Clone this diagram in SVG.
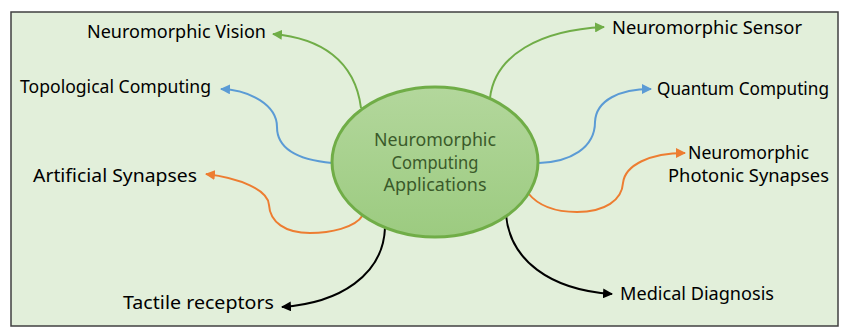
<svg xmlns="http://www.w3.org/2000/svg" width="843" height="329" viewBox="0 0 843 329">
<style>
.lbl{font-family:"Comic Sans MS","Noto Sans",sans-serif;font-size:18px;fill:#000}
.ctr{font-family:"Comic Sans MS","Noto Sans",sans-serif;font-size:18px;fill:#3a5a2a;text-anchor:middle}
.c{fill:none;stroke-width:2}
.g{stroke:#70ad47}.b{stroke:#5b9bd5}.o{stroke:#ed7d31}.k{stroke:#000}
</style>
<defs>
<linearGradient id="eg" x1="0" y1="0" x2="0" y2="1"><stop offset="0" stop-color="#b3d79c"/><stop offset="1" stop-color="#9ccb80"/></linearGradient>
<marker id="ag" viewBox="0 0 10 10" refX="9" refY="5" markerWidth="5" markerHeight="5" orient="auto"><path d="M0,0L10,5L0,10z" fill="#70ad47"/></marker>
<marker id="ab" viewBox="0 0 10 10" refX="9" refY="5" markerWidth="5" markerHeight="5" orient="auto"><path d="M0,0L10,5L0,10z" fill="#5b9bd5"/></marker>
<marker id="ao" viewBox="0 0 10 10" refX="9" refY="5" markerWidth="5" markerHeight="5" orient="auto"><path d="M0,0L10,5L0,10z" fill="#ed7d31"/></marker>
<marker id="ak" viewBox="0 0 10 10" refX="9" refY="5" markerWidth="5" markerHeight="5" orient="auto"><path d="M0,0L10,5L0,10z" fill="#000"/></marker>
</defs>
<rect x="0" y="0" width="843" height="329" fill="#fff"/>
<rect x="11" y="12" width="827" height="314" fill="#e2efda" stroke="#404040" stroke-width="1.5"/>
<g id="connectors">
<path class="c g" d="M361,108 C355,60 320,38 273,34" marker-end="url(#ag)"/>
<path class="c b" d="M332,163 C300,160 277,150 277,127 C277,105 250,90 221,89" marker-end="url(#ab)"/>
<path class="c o" d="M363,215 C355,228 330,233 310,233 C285,233 270,222 269,205 C268,190 240,178 206,174" marker-end="url(#ao)"/>
<path class="c k" d="M385,228 C383,275 340,303 282,307" marker-end="url(#ak)"/>
<path class="c g" d="M490,98 C495,55 540,30 604,27" marker-end="url(#ag)"/>
<path class="c b" d="M539,163 C570,162 595,148 595,122 C596,100 620,89 651,89" marker-end="url(#ab)"/>
<path class="c o" d="M528,193 C540,208 560,212 577,212 C605,212 622,200 623,183 C625,165 650,153 685,153" marker-end="url(#ao)"/>
<path class="c k" d="M506,215 C510,260 550,290 612,294" marker-end="url(#ak)"/>
</g>
<g id="center">
<ellipse cx="435" cy="162" rx="103" ry="75" fill="url(#eg)" stroke="#70ad47" stroke-width="3"/>
<text class="ctr" x="435" y="146" textLength="122" lengthAdjust="spacingAndGlyphs">Neuromorphic</text>
<text class="ctr" x="435" y="169" textLength="87" lengthAdjust="spacingAndGlyphs">Computing</text>
<text class="ctr" x="435" y="191" textLength="103" lengthAdjust="spacingAndGlyphs">Applications</text>
</g>
<g id="n-vision"><text class="lbl" x="87" y="38" textLength="179" lengthAdjust="spacingAndGlyphs">Neuromorphic Vision</text></g>
<g id="n-topological"><text class="lbl" x="20" y="93" textLength="191" lengthAdjust="spacingAndGlyphs">Topological Computing</text></g>
<g id="n-artificial"><text class="lbl" x="33" y="182" textLength="164" lengthAdjust="spacingAndGlyphs">Artificial Synapses</text></g>
<g id="n-tactile"><text class="lbl" x="123" y="309" textLength="151" lengthAdjust="spacingAndGlyphs">Tactile receptors</text></g>
<g id="n-sensor"><text class="lbl" x="612" y="34" textLength="190" lengthAdjust="spacingAndGlyphs">Neuromorphic Sensor</text></g>
<g id="n-quantum"><text class="lbl" x="657" y="95" textLength="172" lengthAdjust="spacingAndGlyphs">Quantum Computing</text></g>
<g id="n-photonic"><text class="lbl" x="688" y="159" textLength="121" lengthAdjust="spacingAndGlyphs">Neuromorphic</text><text class="lbl" x="668" y="182" textLength="161" lengthAdjust="spacingAndGlyphs">Photonic Synapses</text></g>
<g id="n-medical"><text class="lbl" x="620" y="300" textLength="154" lengthAdjust="spacingAndGlyphs">Medical Diagnosis</text></g>
</svg>
